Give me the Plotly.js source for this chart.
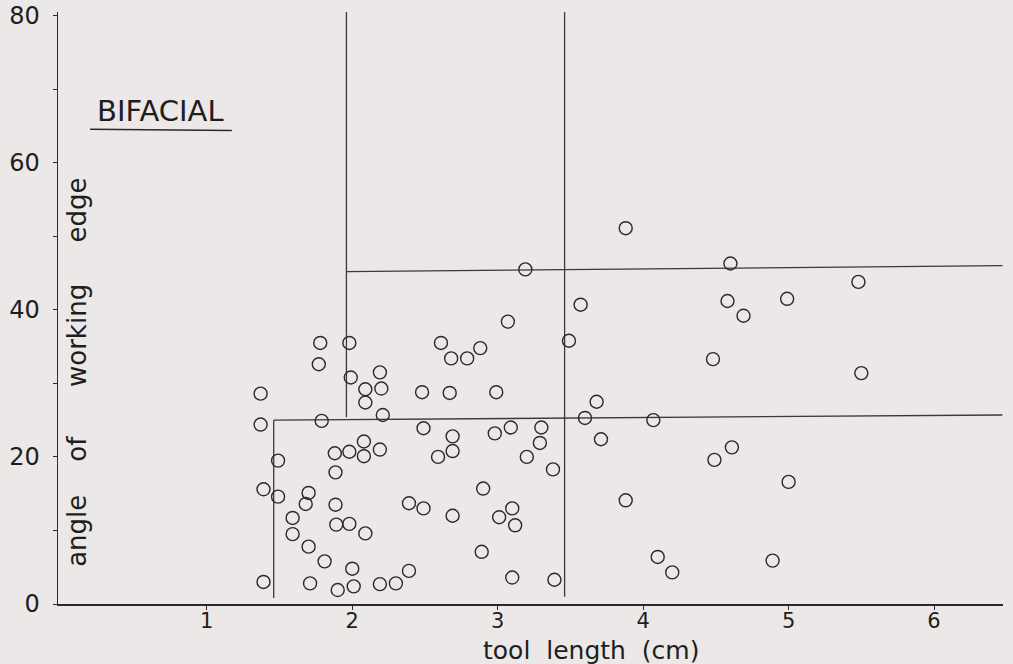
<!DOCTYPE html>
<html>
<head>
<meta charset="utf-8">
<script src="https://cdn.plot.ly/plotly-3.0.1.min.js"></script>
<style>
  html, body { margin: 0; padding: 0; background: #ebe8e7; }
  #chart { width: 1013px; height: 664px; }
</style>
</head>
<body>
<div id="chart"></div>
<script>
// Tool length (cm) and angle of working edge (degrees) for bifacial tools
const toolLength = [
  1.78, 1.98, 1.77, 1.99, 2.19, 2.09, 2.20, 2.09, 1.37, 2.48,
  2.21, 1.37, 1.79, 2.49, 2.08, 1.88, 1.98, 2.08, 2.19, 1.49,
  1.885, 1.39, 1.49, 1.70, 1.68, 1.885, 2.39, 2.49, 1.59, 1.59,
  1.89, 1.98, 2.09, 1.70, 1.81, 2.00, 2.39, 1.39, 1.71, 1.90,
  2.01, 2.19, 2.30, 3.07, 2.61, 2.68, 2.79, 2.88, 3.49, 2.67,
  2.99, 3.68, 3.60, 2.69, 2.69, 2.98, 3.09, 3.30, 3.29, 3.71,
  2.59, 3.20, 3.38, 2.90, 2.69, 3.10, 3.01, 3.12, 2.89, 3.10,
  3.39, 3.88, 4.60, 3.57, 4.58, 4.69, 4.48, 4.07, 4.61, 5.48,
  4.99, 5.50, 5.00, 6.49, 4.89, 3.88, 4.49, 4.10, 4.20, 3.19
];
const edgeAngle = [
  35.5, 35.5, 32.6, 30.8, 31.5, 29.2, 29.3, 27.4, 28.6, 28.8,
  25.7, 24.4, 24.9, 23.9, 22.1, 20.5, 20.7, 20.1, 21.0, 19.5,
  17.9, 15.6, 14.6, 15.1, 13.6, 13.5, 13.7, 13.0, 11.7, 9.5,
  10.8, 10.9, 9.6, 7.8, 5.8, 4.8, 4.5, 3.0, 2.8, 1.9,
  2.4, 2.7, 2.8, 38.4, 35.5, 33.4, 33.4, 34.8, 35.8, 28.7,
  28.8, 27.5, 25.3, 22.8, 20.8, 23.2, 24.0, 24.0, 21.9, 22.4,
  20.0, 20.0, 18.3, 15.7, 12.0, 13.0, 11.8, 10.7, 7.1, 3.6,
  3.3, 51.1, 46.3, 40.7, 41.2, 39.2, 33.3, 25.0, 21.3, 43.8,
  41.5, 31.4, 16.6, 15.0, 5.9, 14.1, 19.6, 6.4, 4.3, 45.5
];

// Hand-drawn division lines (x values, y values)
const lowerVertX = [1.46, 1.46];
const lowerVertY = [0.8, 25.0];
const midVertX = [1.96, 1.96];
const midVertY = [25.4, 80.5];
const rightVertX = [3.46, 3.46];
const rightVertY = [1.0, 81.0];
const lowerHorizX = [1.46, 6.47];
const lowerHorizY = [25.0, 25.7];
const upperHorizX = [1.96, 6.47];
const upperHorizY = [45.2, 46.0];

const xTickVals = [1, 2, 3, 4, 5, 6];
const xTickText = ['1', '2', '3', '4', '5', '6'];
const yTickVals = [0, 10, 20, 30, 40, 50, 60, 70, 80];
const yTickText = ['0', '', '20', '', '40', '', '60', '', '80'];

const ink = '#2a2a2a';
const font = 'DejaVu Sans, Liberation Sans, sans-serif';
const nb = n => '\u00A0'.repeat(n);

function divider(xs, ys) {
  return {
    x: xs, y: ys, mode: 'lines', type: 'scatter',
    line: { color: '#3a3a3a', width: 1.3 },
    hoverinfo: 'skip', showlegend: false, cliponaxis: false
  };
}

const traces = [
  divider(lowerVertX, lowerVertY),
  divider(midVertX, midVertY),
  divider(rightVertX, rightVertY),
  divider(lowerHorizX, lowerHorizY),
  divider(upperHorizX, upperHorizY),
  {
    x: toolLength, y: edgeAngle, mode: 'markers', type: 'scatter',
    marker: { symbol: 'circle-open', size: 13, color: ink, line: { width: 1.4, color: ink } },
    showlegend: false, cliponaxis: false
  }
];

const layout = {
  width: 1013, height: 664,
  margin: { l: 58, r: 10, t: 12, b: 60 },
  paper_bgcolor: '#ebe8e7',
  plot_bgcolor: '#ebe8e7',
  font: { family: font, color: '#1e1e1e' },
  showlegend: false,
  xaxis: {
    range: [-0.023, 6.474],
    showgrid: false, zeroline: false,
    showline: true, linecolor: ink, linewidth: 1.5,
    tickmode: 'array', tickvals: xTickVals, ticktext: xTickText,
    ticks: 'outside', ticklen: 4, tickcolor: ink, tickwidth: 1,
    ticklabelstandoff: -7,
    tickfont: { size: 21, family: font, color: '#1e1e1e' }
  },
  yaxis: {
    range: [0, 80.5],
    showgrid: false, zeroline: false,
    showline: true, linecolor: ink, linewidth: 1.5,
    tickmode: 'array', tickvals: yTickVals, ticktext: yTickText,
    ticks: 'outside', ticklen: 4, tickcolor: ink, tickwidth: 1,
    ticklabelstandoff: 8,
    tickfont: { size: 24, family: font, color: '#1e1e1e' }
  },
  annotations: [
    {
      text: 'BIFACIAL', xref: 'paper', yref: 'paper',
      x: 0.1085, y: 0.833, xanchor: 'center', yanchor: 'middle',
      showarrow: false, font: { size: 29, family: font, color: '#1e1e1e' }
    },
    {
      text: 'angle' + nb(4) + 'of' + nb(6) + 'working' + nb(5) + 'edge',
      xref: 'paper', yref: 'paper',
      x: 0.020, y: 0.392, xanchor: 'center', yanchor: 'middle',
      textangle: -90, showarrow: false,
      font: { size: 26, family: font, color: '#1e1e1e' }
    },
    {
      text: 'tool' + nb(2) + 'length' + nb(2) + '(cm)', xref: 'paper', yref: 'paper',
      x: 0.564, y: -0.078, xanchor: 'center', yanchor: 'middle',
      showarrow: false, font: { size: 25, family: font, color: '#1e1e1e' }
    }
  ],
  shapes: [
    {
      type: 'line', xref: 'paper', yref: 'paper',
      x0: 0.034, x1: 0.184, y0: 0.802, y1: 0.800,
      line: { color: ink, width: 1.5 }
    }
  ]
};

Plotly.newPlot('chart', traces, layout, { displayModeBar: false, staticPlot: true });
</script>
</body>
</html>
